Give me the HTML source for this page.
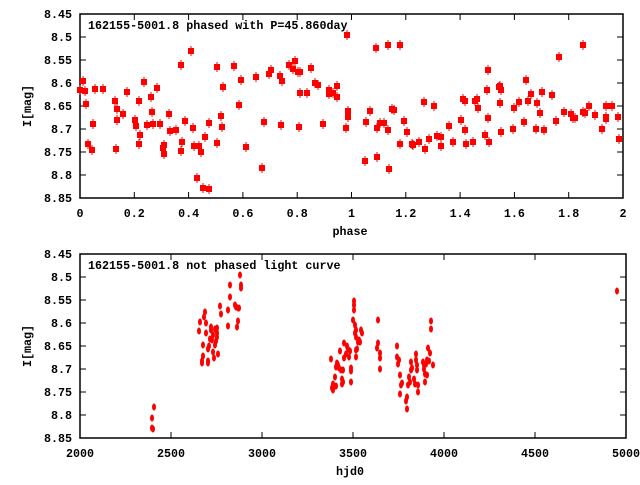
<!DOCTYPE html>
<html><head><meta charset="utf-8"><style>
html,body{margin:0;padding:0;background:#fff;}
svg text{font-family:"Liberation Mono",monospace;font-weight:bold;font-size:11.7px;fill:#000;}
</style></head><body>
<svg id="s" width="640" height="480" xmlns="http://www.w3.org/2000/svg"></svg>
<script>
const s=document.getElementById('s');let h='';
function frame(top,bot,L,R,yl,xt,xl,title){
 h+=`<rect x="${L}" y="${top}" width="${R-L}" height="${bot-top}" fill="none" stroke="#000" stroke-width="1.5"/>`;
 for(let i=0;i<=8;i++){const y=top+(bot-top)*i/8;const v=(8.45+0.05*i);let t=(Math.round(v*100)/100).toString();
  h+=`<line x1="${L}" y1="${y}" x2="${L+6}" y2="${y}" stroke="#000"/><line x1="${R}" y1="${y}" x2="${R-6}" y2="${y}" stroke="#000"/>`;
  h+=`<text x="72" y="${y+4}" text-anchor="end">${t}</text>`;}
 for(let i=0;i<xt.length;i++){const x=L+(R-L)*i/(xt.length-1);
  h+=`<line x1="${x}" y1="${bot}" x2="${x}" y2="${bot-6}" stroke="#000"/><line x1="${x}" y1="${top}" x2="${x}" y2="${top+6}" stroke="#000"/>`;
  h+=`<text x="${x}" y="${bot+19}" text-anchor="middle">${xt[i]}</text>`;}
 h+=`<text x="88" y="${top+15}">${title}</text>`;
 h+=`<text x="350" y="${bot+37}" text-anchor="middle">${xl}</text>`;
 h+=`<text transform="translate(31,${(top+bot)/2}) rotate(-90)" text-anchor="middle">I[mag]</text>`;
}
frame(14,198,80,623,0,['0','0.2','0.4','0.6','0.8','1','1.2','1.4','1.6','1.8','2'],'phase','162155-5001.8 phased with P=45.860day');
frame(254,438,80,626,0,['2000','2500','3000','3500','4000','4500','5000'],'hjd0','162155-5001.8 not phased light curve');
const A=[[80,90],[83,81],[85,91],[86,104],[88,144],[92,150],[93,124],[95,89],[103,89],[115,101],[117,109],[117,120],[116,149],[123,114],[127,92],[135,120],[136,126],[139,101],[140,135],[139,144],[144,82],[147,125],[151,97],[152,112],[153,124],[157,88],[160,124],[163,148],[164,145],[164,154],[169,114],[170,131],[176,130],[181,65],[182,142],[181,151],[185,121],[191,51],[193,128],[194,146],[197,178],[199,146],[201,152],[203,188],[205,137],[209,189],[209,123],[217,67],[217,143],[221,116],[222,127],[223,87],[234,66],[239,105],[241,80],[246,147],[256,77],[262,168],[264,122],[269,74],[271,70],[280,76],[281,125],[282,81],[289,65],[293,69],[295,61],[298,72],[299,127],[300,93],[300,72],[307,93],[311,68],[315,83],[318,85],[323,124],[329,90],[329,94],[333,93],[337,97],[337,86],[346,128],[347,35],[348,111],[348,117],
[366,122],[365,161],[370,111],[376,48],[377,128],[377,157],[380,123],[384,123],[388,45],[388,130],[389,169],[392,109],[394,110],[400,45],[400,144],[404,121],[407,132],[412,144],[413,145],[419,142],[424,102],[425,149],[429,139],[434,106],[437,136],[441,137],[441,146],[449,126],[453,142],[461,120],[463,99],[465,101],[465,130],[466,144],[473,142],[475,101],[477,99],[478,108],[485,135],[487,90],[488,70],[488,118],[489,142],[499,87],[500,86],[501,90],[500,103],[501,132],[513,129],[514,108],[519,102],[524,122],[526,80],[528,101],[531,94],[536,129],[537,103],[540,113],[542,92],[544,130],[552,95],[556,121],[559,57],[564,112],[571,114],[573,118],[575,118],[583,45],[583,112],[585,113],[589,106],[595,115],[602,129],[606,106],[606,117],[606,119],[612,106],[618,117],[619,139]];
for(const[x,y]of A){h+=`<rect x="${x-3}" y="${y-3}" width="6" height="6" fill="#f00"/><line x1="${x}" y1="${y-5}" x2="${x}" y2="${y+5}" stroke="#f00" stroke-width="1"/>`;}
const B=[[152,418],[153,429],[152,428],[154,407],[199,331],[200,322],[203,345],[203,356],[202,361],[202,363],[204,317],[205,312],[206,323],[206,333],[208,349],[208,361],[208,363],[209,346],[210,339],[211,327],[211,330],[212,340],[213,335],[213,352],[214,358],[215,345],[215,329],[216,341],[217,328],[217,333],[217,337],[218,354],[220,306],[221,314],[228,310],[228,326],[230,285],[230,297],[235,305],[236,307],[237,327],[238,321],[238,308],[239,308],[240,275],[241,285],[241,288],
[331,359],[332,388],[333,384],[333,390],[334,387],[335,377],[336,386],[336,367],[337,363],[338,365],[339,368],[340,351],[341,370],[342,384],[342,379],[343,382],[343,370],[344,358],[344,343],[346,354],[347,346],[348,349],[349,357],[350,351],[351,368],[351,382],[351,371],[353,320],[354,301],[354,305],[354,310],[355,325],[355,333],[356,337],[356,330],[356,350],[356,357],[357,349],[358,342],[359,340],[360,342],[361,330],[362,333],[377,348],[378,320],[378,343],[380,353],[380,358],[380,369],[397,346],[397,357],[398,364],[399,360],[400,375],[400,394],[401,385],[402,383],[406,401],[407,397],[407,409],[408,385],[409,377],[410,382],[411,370],[411,362],[412,368],[414,379],[415,384],[416,354],[416,360],[417,365],[417,370],[418,385],[418,392],[423,362],[424,365],[424,369],[425,374],[425,382],[426,364],[427,375],[427,360],[428,348],[429,361],[430,353],[431,321],[431,329],[433,365],[617,291]];
for(const[x,y]of B){h+=`<ellipse cx="${x}" cy="${y}" rx="2" ry="3.5" fill="#f00"/>`;}
s.innerHTML=h;
</script>
</body></html>
